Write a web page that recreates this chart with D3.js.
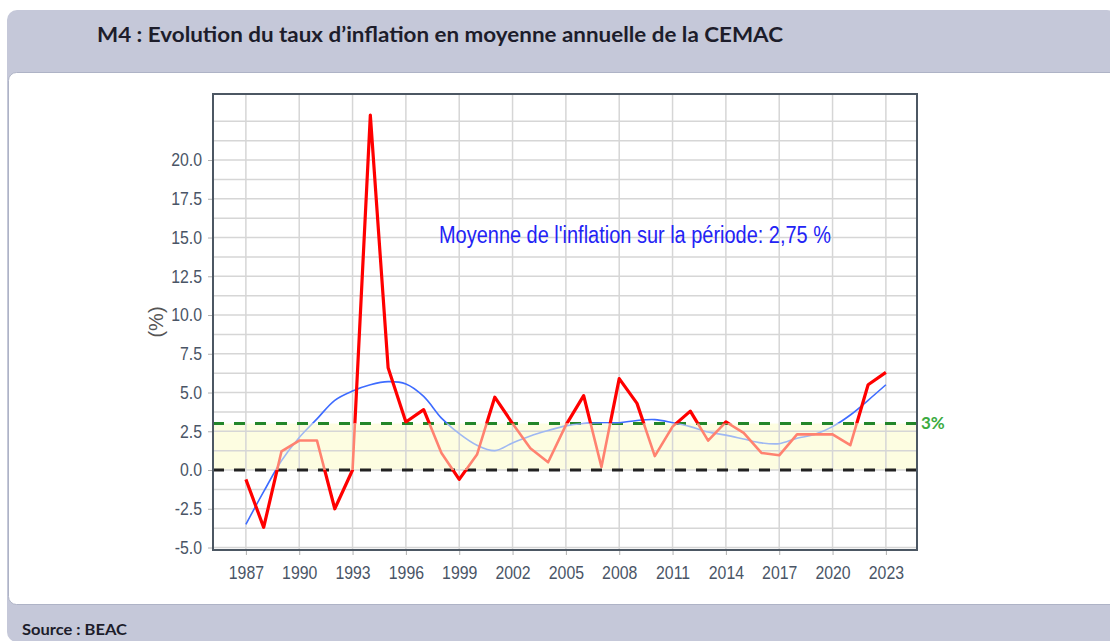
<!DOCTYPE html>
<html>
<head>
<meta charset="utf-8">
<script src="https://cdn.jsdelivr.net/npm/d3@7"></script>
<style>
body { margin: 0; background: #fff; }
svg { display: block; }
</style>
</head>
<body>
<div id="chart"></div>
<script>
// data
var years = d3.range(1987, 2024);
var inflation = [-0.6, -3.7, 1.2, 1.9, 1.9, -2.5, 0.0, 22.9, 6.6, 3.1,
                 3.9, 1.1, -0.6, 1.0, 4.7, 3.0, 1.4, 0.5, 2.9, 4.8,
                 0.2, 5.9, 4.3, 0.9, 2.8, 3.8, 1.9, 3.1, 2.4, 1.1,
                 0.95, 2.3, 2.3, 2.3, 1.6, 5.5, 6.3];
var tendance = [-3.5, -1.4, 0.6, 2.1, 3.3, 4.5, 5.1, 5.5, 5.7, 5.55,
                4.75, 3.35, 2.35, 1.6, 1.25, 1.75, 2.2, 2.55, 2.85, 3.0,
                3.05, 3.05, 3.2, 3.25, 3.05, 2.8, 2.45, 2.25, 2.0, 1.75,
                1.7, 2.05, 2.3, 2.8, 3.55, 4.5, 5.5];
var xTicks = d3.range(1987, 2024, 3);
var yTicks = [-5, -2.5, 0, 2.5, 5, 7.5, 10, 12.5, 15, 17.5, 20];
var gridY = d3.range(-5, 23, 1.25);
var cible = 3, plancher = 0;
var titre = "M4 : Evolution du taux d\u2019inflation en moyenne annuelle de la CEMAC";
var note = "Moyenne de l'inflation sur la p\u00e9riode: 2,75 %";
var source = "Source : BEAC";

var W = 1110, H = 641;
var margin = {top: 94, left: 213},
    width = 704,
    height = 456;

var svg = d3.select("#chart").append("svg")
  .attr("width", W).attr("height", H);

// card background
svg.append("rect").attr("x", 7).attr("y", 10).attr("width", W).attr("height", 632)
  .attr("rx", 10).attr("fill", "#c5c8d9");
svg.append("rect").attr("x", 8.5).attr("y", 72.5).attr("width", W).attr("height", 532)
  .attr("rx", 8).attr("fill", "#fff").attr("stroke", "#aeb3c6");

svg.append("text").attr("x", 97).attr("y", 42)
  .attr("textLength", 686).attr("lengthAdjust", "spacingAndGlyphs")
  .style("font-family", "Lato, 'Open Sans', sans-serif")
  .style("font-weight", "bold").style("font-size", "20px")
  .attr("fill", "#1d1d2b").text(titre);

svg.append("text").attr("x", 22).attr("y", 635)
  .attr("textLength", 105).attr("lengthAdjust", "spacingAndGlyphs")
  .style("font-family", "Lato, 'Open Sans', sans-serif")
  .style("font-weight", "bold").style("font-size", "15px")
  .attr("fill", "#1d1d2b").text(source);

// scales
var x = d3.scaleLinear().domain([1985.15, 2024.75]).range([0, width]);
var y = d3.scaleLinear().domain([-5.16, 24.26]).range([height, 0]);

var g = svg.append("g")
  .attr("transform", "translate(" + margin.left + "," + margin.top + ")");

var defs = svg.append("defs");
defs.append("clipPath").attr("id", "dans")
  .append("rect").attr("x", 0).attr("width", width)
  .attr("y", y(cible)).attr("height", y(plancher) - y(cible));
var hors = defs.append("clipPath").attr("id", "hors");
hors.append("rect").attr("x", 0).attr("width", width)
  .attr("y", -50).attr("height", y(cible) + 50);
hors.append("rect").attr("x", 0).attr("width", width)
  .attr("y", y(plancher)).attr("height", height - y(plancher) + 50);

// band
g.append("rect").attr("x", 0).attr("width", width)
  .attr("y", y(cible)).attr("height", y(plancher) - y(cible))
  .attr("fill", "#fdfde1");

// grid
g.selectAll(".gy").data(gridY).enter().append("line")
  .attr("x1", 0).attr("x2", width)
  .attr("y1", function(d) { return y(d); }).attr("y2", function(d) { return y(d); })
  .attr("stroke", "#d6d6d6").attr("stroke-width", 1.5);
g.selectAll(".gx").data(xTicks).enter().append("line")
  .attr("y1", 0).attr("y2", height)
  .attr("x1", function(d) { return x(d); }).attr("x2", function(d) { return x(d); })
  .attr("stroke", "#d6d6d6").attr("stroke-width", 1.5);

// axes
var fmt = function(d) { return d.toFixed(1); };
var yAxis = g.append("g")
  .call(d3.axisLeft(y).tickValues(yTicks).tickFormat(fmt).tickSize(5).tickPadding(6));
var xAxis = g.append("g")
  .attr("transform", "translate(0," + height + ")")
  .call(d3.axisBottom(x).tickValues(xTicks).tickFormat(d3.format("d")).tickSize(5).tickPadding(11));
[yAxis, xAxis].forEach(function(a) {
  a.select(".domain").remove();
  a.selectAll("line").attr("stroke", "#b0b0b0");
  a.selectAll("text")
    .style("font-family", "'Liberation Sans', Arial, sans-serif")
    .style("font-size", "18px")
    .attr("fill", "#4a5566");
});
yAxis.selectAll("text").attr("x", -12.5).attr("transform", "scale(0.88,1)");
xAxis.selectAll("text").attr("transform", "scale(0.88,1)");

g.append("text")
  .attr("transform", "translate(" + (156 - margin.left) + "," + (322 - margin.top) + ") rotate(-90)")
  .attr("text-anchor", "middle").attr("dy", "0.35em")
  .style("font-family", "'Liberation Sans', Arial, sans-serif")
  .style("font-size", "20px").attr("fill", "#555")
  .text("(%)");

// reference lines
g.append("line").attr("x1", 0).attr("x2", width)
  .attr("y1", y(cible)).attr("y2", y(cible))
  .attr("stroke", "#23862a").attr("stroke-width", 3).attr("stroke-dasharray", "11,10");
g.append("line").attr("x1", 0).attr("x2", width)
  .attr("y1", y(plancher)).attr("y2", y(plancher))
  .attr("stroke", "#222").attr("stroke-width", 3).attr("stroke-dasharray", "11,10");

// series
var pts = years.map(function(yr, i) { return {an: yr, v: inflation[i], t: tendance[i]}; });
var ligne = d3.line()
  .x(function(d) { return x(d.an); })
  .y(function(d) { return y(d.v); });
var lisse = d3.line()
  .curve(d3.curveCatmullRom)
  .x(function(d) { return x(d.an); })
  .y(function(d) { return y(d.t); });

g.append("path").datum(pts).attr("d", lisse).attr("fill", "none")
  .attr("clip-path", "url(#hors)").attr("stroke", "#3e6cff").attr("stroke-width", 1.6);
g.append("path").datum(pts).attr("d", lisse).attr("fill", "none")
  .attr("clip-path", "url(#dans)").attr("stroke", "#9fb8f2").attr("stroke-width", 1.6);

g.append("path").datum(pts).attr("d", ligne).attr("fill", "none")
  .attr("clip-path", "url(#hors)").attr("stroke", "#ff0000")
  .attr("stroke-width", 3.2).attr("stroke-linejoin", "round");
g.append("path").datum(pts).attr("d", ligne).attr("fill", "none")
  .attr("clip-path", "url(#dans)").attr("stroke", "#ff8270")
  .attr("stroke-width", 2.6).attr("stroke-linejoin", "round");

// border
g.append("rect").attr("width", width).attr("height", height)
  .attr("fill", "none").attr("stroke", "#4c5763").attr("stroke-width", 2);

// annotations
g.append("text").attr("x", 439 - margin.left).attr("y", 243 - margin.top)
  .attr("textLength", 392).attr("lengthAdjust", "spacingAndGlyphs")
  .style("font-family", "'Liberation Sans', Arial, sans-serif")
  .style("font-size", "23px").attr("fill", "#2323f5")
  .text(note);

g.append("text").attr("x", width + 4).attr("y", y(cible)).attr("dy", "0.35em")
  .style("font-family", "Lato, 'Open Sans', sans-serif")
  .style("font-weight", "bold").style("font-size", "17px")
  .attr("fill", "#3bab3f").text(cible + "%");
</script>
</body>
</html>
